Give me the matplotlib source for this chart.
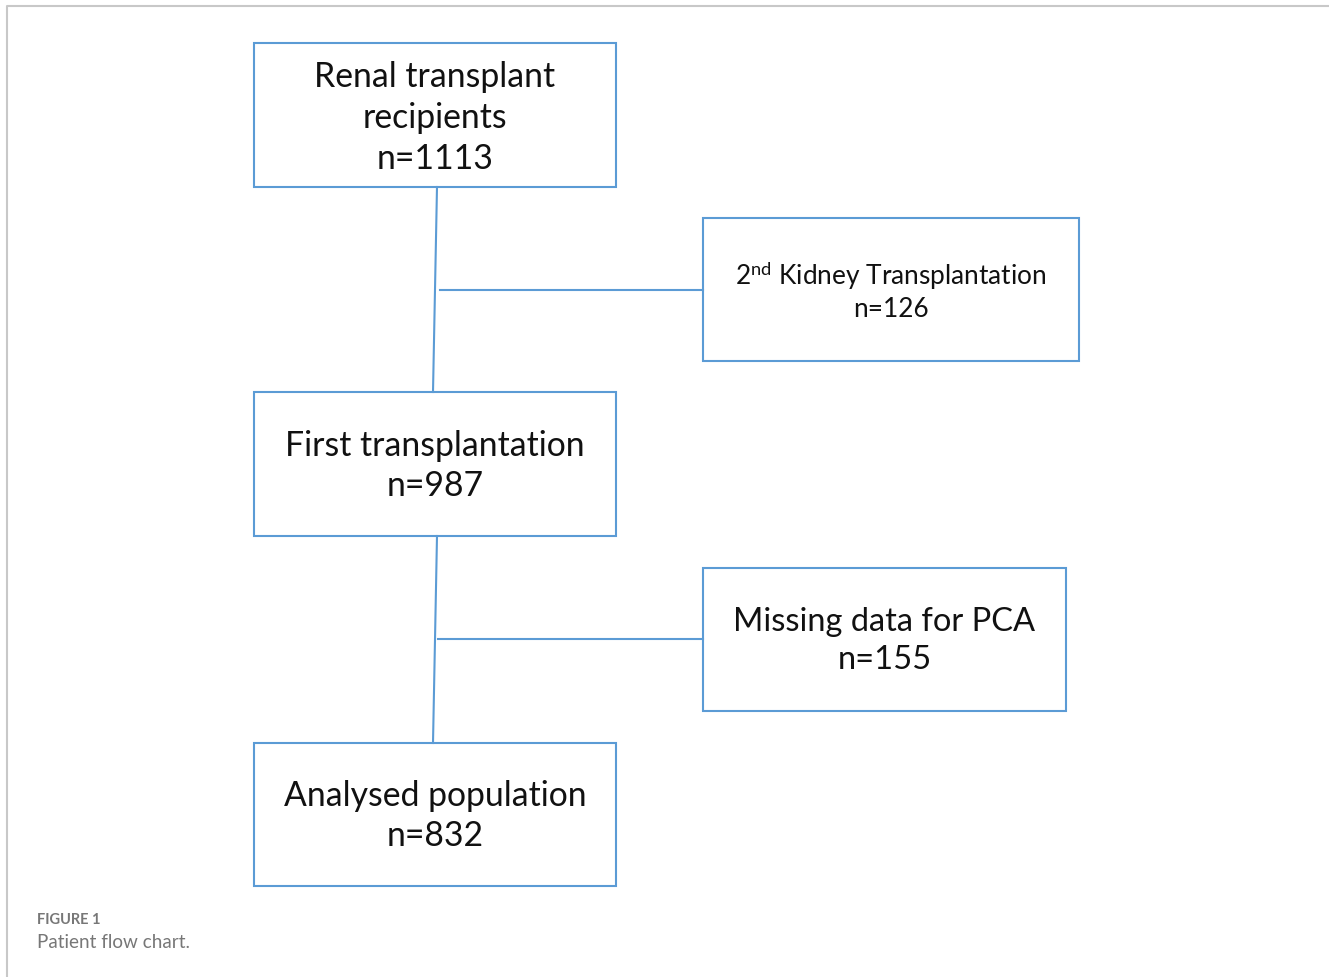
import matplotlib
matplotlib.use("Agg")
import matplotlib.pyplot as plt
from matplotlib.patches import Rectangle

plt.rcParams['font.family'] = ['Lato', 'DejaVu Sans']
plt.rcParams['mathtext.fontset'] = 'custom'
plt.rcParams['mathtext.rm'] = 'Lato'
plt.rcParams['mathtext.it'] = 'Lato:italic'
plt.rcParams['mathtext.bf'] = 'Lato:bold'

# Data
box_titles = ["Renal transplant\nrecipients", "2$^{\\mathrm{nd}}$ Kidney Transplantation",
              "First transplantation", "Missing data for PCA", "Analysed population"]
box_counts = [1113, 126, 987, 155, 832]
caption_label = "FIGURE 1"
caption_text = "Patient flow chart."

# Layout (pixel coordinates)
W, H = 1329, 977
boxes = [  # x0, y0, x1, y1
    (254, 43, 616, 187),
    (703, 218, 1079, 361),
    (254, 392, 616, 536),
    (703, 568, 1066, 711),
    (254, 743, 616, 886),
]
font_sizes = [24.3, 18.9, 24.3, 23.5, 24.3]
text_y = [118, 291, 466, 641, 816]
line_sp = [1.33, 1.24, 1.33, 1.34, 1.33]

fig = plt.figure(figsize=(W / 100, H / 100), dpi=100)
ax = fig.add_axes([0, 0, 1, 1])
ax.set_xlim(0, W)
ax.set_ylim(H, 0)
ax.axis('off')

# outer frame
ax.plot([7, 7, W], [H, 6, 6], color='#c8c8c8', lw=1.5, solid_capstyle='butt')

blue = '#5b9bd5'
for (x0, y0, x1, y1), title, n, fs, ty, ls in zip(boxes, box_titles, box_counts, font_sizes, text_y, line_sp):
    ax.add_patch(Rectangle((x0, y0), x1 - x0, y1 - y0, fill=False, edgecolor=blue, lw=1.5))
    ax.text((x0 + x1) / 2, ty, f"{title}\nn={n}", ha='center', va='center',
            fontsize=fs, color='#111111', linespacing=ls)

# connectors
ax.plot([437, 433], [187, 392], color=blue, lw=1.5)
ax.plot([440, 703], [290, 290], color=blue, lw=1.5)
ax.plot([437, 433], [536, 743], color=blue, lw=1.5)
ax.plot([438, 703], [639, 639], color=blue, lw=1.5)

ax.text(37, 920, caption_label, ha='left', va='center', fontsize=10.5, fontweight='bold', color='#777777')
ax.text(37, 943, caption_text, ha='left', va='center', fontsize=13.6, color='#777777')

fig.savefig('out.png', dpi=100)
